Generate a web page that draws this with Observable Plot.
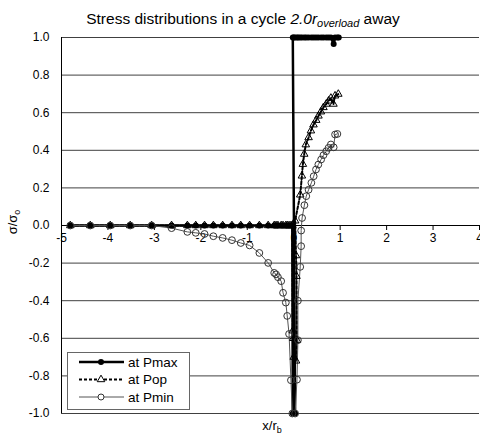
<!DOCTYPE html>
<html><head><meta charset="utf-8">
<script src="https://cdn.jsdelivr.net/npm/d3@7"></script>
<script src="https://cdn.jsdelivr.net/npm/@observablehq/plot@0.6"></script>
<style>body{margin:0;background:#fff} svg{font-family:"Liberation Sans",Arial,sans-serif}</style>
</head><body><div id="chart"></div><script>
// ---- data ----
const xTicks = [-5, -4, -3, -2, -1, 0, 1, 2, 3, 4];
const yTicks = [-1.0, -0.8, -0.6, -0.4, -0.2, 0.0, 0.2, 0.4, 0.6, 0.8, 1.0];

// crack wake nodes (x/r_b)
const wakeX = [-4.81,-4.38,-3.95,-3.52,-3.06,-2.63,-2.29,-2.11,-1.92,-1.73,-1.53,-1.33,-1.14,-0.95,-0.74,-0.55,-0.42,-0.38,-0.34,-0.27,-0.23,-0.17,-0.14,-0.10,-0.06,-0.03];
const pmaxWake = [0,0,0,0,0,0,0,0,0,0,0,0,0,0,0,0,0,0,0,0,0,0,0,0,0,0];
const popWake  = [0,0,0,0,0,0,0,0,0,0,0,0,0,0,0,0,0,0,0,0,0,0,0,0,0,0];
const pminWake = [0,0,0,0,0,-0.014,-0.034,-0.039,-0.045,-0.057,-0.066,-0.078,-0.093,-0.106,-0.146,-0.199,-0.252,-0.26,-0.275,-0.296,-0.358,-0.41,-0.481,-0.577,-0.823,-1.0];

// near tip and ahead of the tip
const pmaxTipX = [-0.02,0.03,-0.02,0.0,0.03,0.07,0.10,0.14,0.18,0.23,0.27,0.32,0.38,0.43,0.48,0.53,0.59,0.64,0.70,0.75,0.80,0.86,0.89,0.94,0.97];
const pmaxTipY = [-1.0,-1.0,1.0,1.0,1.0,1.0,1.0,1.0,1.0,1.0,1.0,1.0,1.0,1.0,1.0,1.0,1.0,1.0,1.0,1.0,1.0,0.965,1.0,1.0,1.0];

const popTipX = [-0.02,-0.01,0.0,0.05,0.07,0.06,0.05,0.03,0.14,0.176,0.197,0.226,0.26,0.32,0.37,0.426,0.484,0.533,0.585,0.64,0.70,0.75,0.80,0.856,0.89,0.96];
const popTipY = [-0.56,-0.60,-0.70,-0.72,-0.61,-0.27,-0.16,0.025,0.163,0.264,0.326,0.38,0.43,0.468,0.504,0.536,0.56,0.583,0.605,0.628,0.646,0.663,0.678,0.646,0.69,0.699];

const pminTipX = [0.03,0.07,0.09,0.09,0.14,0.16,0.16,0.18,0.23,0.27,0.32,0.38,0.43,0.48,0.53,0.59,0.64,0.70,0.75,0.80,0.86,0.89,0.94];
const pminTipY = [-1.0,-0.82,-0.61,-0.40,-0.22,-0.11,-0.027,0.04,0.108,0.156,0.19,0.227,0.262,0.298,0.324,0.351,0.374,0.395,0.413,0.431,0.416,0.484,0.487];

const seriesNames = ["at Pmax", "at Pop", "at Pmin"];

// ---- tables built from the arrays ----
const toRows = (xs, ys) => xs.map((x, i) => ({x, y: ys[i]}));
const pmax = toRows(wakeX, pmaxWake).concat(toRows(pmaxTipX, pmaxTipY));
const pop  = toRows(wakeX, popWake).concat(toRows(popTipX, popTipY));
const pmin = toRows(wakeX, pminWake).concat(toRows(pminTipX, pminTipY));

const chart = Plot.plot({
  width: 480, height: 436,
  marginLeft: 61, marginRight: 1, marginTop: 37, marginBottom: 23,
  style: {fontFamily: "Liberation Sans, Arial, sans-serif", fontSize: "12px", background: "white", color: "black"},
  x: {domain: [-5, 4], axis: null},
  y: {domain: [-1, 1], axis: null},
  marks: [
    Plot.ruleY(yTicks.filter(d => d !== 0), {stroke: "#404040", strokeWidth: 1}),
    Plot.ruleY([0], {stroke: "black", strokeWidth: 1}),
    Plot.ruleX([-5], {stroke: "black", strokeWidth: 1}),
    Plot.ruleX(xTicks, {y1: 0, y2: 0, insetBottom: -5, stroke: "black"}),
    Plot.text(xTicks, {x: d => d, y: 0, dy: 13, text: d => String(d), fontSize: 12, fill: "black"}),
    Plot.text(yTicks, {y: d => d, frameAnchor: "left", dx: -12, textAnchor: "end", text: d => d.toFixed(1), fontSize: 12, fill: "black"}),
    Plot.line(pmax, {x: "x", y: "y", stroke: "black", strokeWidth: 2.5}),
    Plot.line(pop, {x: "x", y: "y", stroke: "black", strokeWidth: 2, strokeDasharray: "3,2"}),
    Plot.line(pmin, {x: "x", y: "y", stroke: "#555", strokeWidth: 1}),
    Plot.dot(pmax, {x: "x", y: "y", r: 3, fill: "black", stroke: "none"}),
    Plot.dot(pop, {x: "x", y: "y", r: 2.8, symbol: "triangle", fill: "none", stroke: "black", strokeWidth: 1}),
    Plot.dot(pmin, {x: "x", y: "y", r: 3.4, fill: "none", stroke: "#333", strokeWidth: 1})
  ]
});

const svg = d3.select(chart);
// title
const t = svg.append("text").attr("x", 243).attr("y", 24).attr("text-anchor", "middle").attr("font-size", 15.5).attr("fill", "black");
t.append("tspan").text("Stress distributions in a cycle ");
t.append("tspan").attr("font-style", "italic").text("2.0r");
t.append("tspan").attr("font-style", "italic").attr("font-size", 11).attr("dy", 3).text("overload");
t.append("tspan").attr("dy", -3).text(" away");
// y label
const yl = svg.append("text").attr("transform", "translate(17,222) rotate(-90)").attr("text-anchor", "middle").attr("font-size", 13).attr("fill", "black");
yl.append("tspan").text("σ/σ");
yl.append("tspan").attr("font-size", 9).attr("dy", 3).text("o");
// x label
const xl = svg.append("text").attr("x", 272).attr("y", 430).attr("text-anchor", "middle").attr("font-size", 13).attr("fill", "black");
xl.append("tspan").text("x/r");
xl.append("tspan").attr("font-size", 9).attr("dy", 3).text("b");

// legend
const lg = svg.append("g").attr("text-anchor", "start");
lg.append("rect").attr("x", 67.5).attr("y", 352.5).attr("width", 122).attr("height", 57).attr("fill", "white").attr("stroke", "#666");
const rows = [
  {y: 362, stroke: "black", w: 2.5, dash: null, sym: d3.symbolCircle, fill: "black", r: 3},
  {y: 379.5, stroke: "black", w: 2, dash: "3,2", sym: d3.symbolTriangle, fill: "none", r: 2.8},
  {y: 397, stroke: "#555", w: 1, dash: null, sym: d3.symbolCircle, fill: "none", r: 3}
];
rows.forEach((r, i) => {
  lg.append("line").attr("x1", 79).attr("x2", 124).attr("y1", r.y).attr("y2", r.y)
    .attr("stroke", r.stroke).attr("stroke-width", r.w).attr("stroke-dasharray", r.dash);
  lg.append("path").attr("transform", `translate(101,${r.y})`)
    .attr("d", d3.symbol(r.sym, Math.PI * r.r * r.r)())
    .attr("fill", r.fill === "none" ? "white" : r.fill).attr("stroke", i === 0 ? "none" : (i === 2 ? "#333" : "black"));
  lg.append("text").attr("x", 128).attr("y", r.y + 4.5).attr("text-anchor", "start").attr("font-size", 13.5).attr("fill", "black").text(seriesNames[i]);
});

document.getElementById("chart").appendChild(chart);
</script></body></html>
